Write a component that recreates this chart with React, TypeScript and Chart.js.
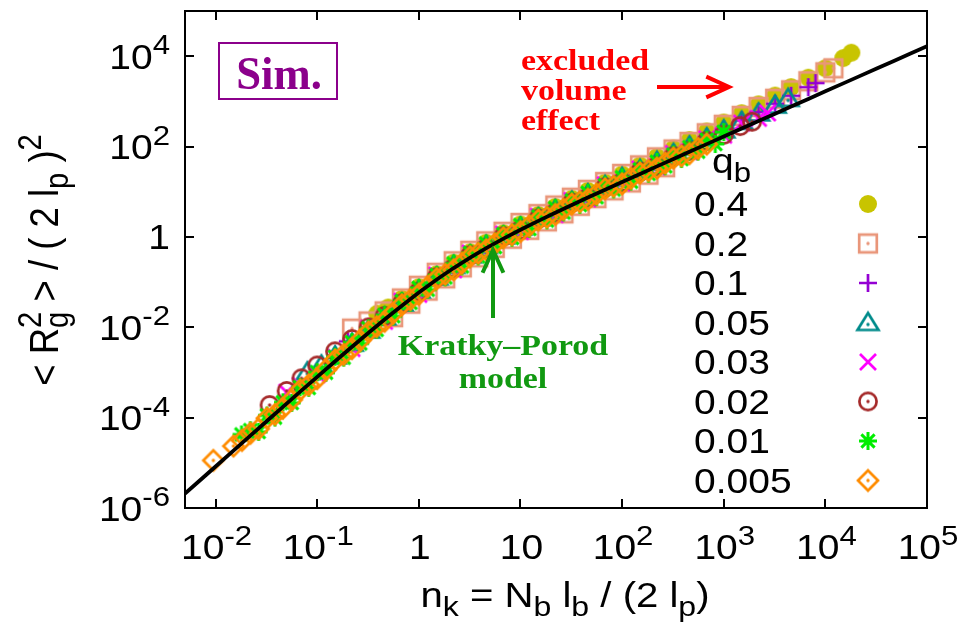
import React, { useEffect, useRef } from 'react';
import { Chart, registerables } from 'chart.js';

Chart.register(...registerables);

const W = 966;
const H = 640;

// Legend entries (bending parameter q_b) and their colours
const qbLabels = ['0.4', '0.2', '0.1', '0.05', '0.03', '0.02', '0.01', '0.005'];
const qbColors = ['#c8c400', '#e9967a', '#9400d3', '#008b8b', '#ff00ff', '#a52a2a', '#00ee00', '#ff8c00'];
const qbMarkers = ['disc', 'square', 'plus', 'triangle', 'cross', 'ring', 'star', 'diamond'];

// Simulation data: n_k and <Rg^2>/(2 l_p)^2 for each q_b
const n040 = [0.39, 0.5, 0.68, 1, 1.5, 2.2, 3.2, 4.6, 6.8, 10, 15, 22, 32, 46, 68, 100, 150, 220, 320, 460, 680, 1000, 1500, 2200, 3200, 4600, 6800, 10000, 15000, 18000];
const rg040 = [0.02, 0.02738, 0.04246, 0.07727, 0.15, 0.27, 0.46, 0.745, 1.211, 1.897, 3.055, 4.624, 7.031, 10.5, 16.03, 24.27, 38.37, 59.02, 90.16, 139.0, 215.3, 339.6, 547.0, 859.0, 1340, 2061, 3342, 5395, 9078, 11940];

const n020 = [0.22, 0.32, 0.46, 0.559, 0.68, 0.825, 1, 1.22, 1.5, 1.82, 2.2, 2.65, 3.2, 3.84, 4.6, 5.59, 6.8, 8.25, 10, 12.2, 15, 18.2, 22, 26.5, 32, 38.4, 46, 55.9, 68, 82.5, 100, 122, 150, 182, 220, 265, 320, 460, 680, 1000, 1500, 2200, 3200, 4600, 6800, 10000, 12000];
const rg020 = [0.00931, 0.01343, 0.02244, 0.01677, 0.04345, 0.03334, 0.08279, 0.06486, 0.1607, 0.1212, 0.2891, 0.2123, 0.4932, 0.3528, 0.798, 0.5723, 1.297, 0.9131, 2.032, 1.434, 3.199, 2.213, 4.955, 3.319, 7.362, 4.887, 10.99, 7.211, 16.41, 10.72, 24.83, 16.01, 38.37, 23.85, 57.68, 34.91, 86.1, 126.8, 196.3, 302.7, 476.4, 748.2, 1140, 1754, 2780, 4385, 5383];

const n010 = [0.2, 0.32, 0.46, 0.68, 1, 1.5, 2.2, 3.2, 4.6, 6.8, 10, 15, 22, 32, 46, 68, 100, 150, 220, 320, 460, 680, 1000, 1500, 2200, 3200, 4600, 6800, 8000];
const rg010 = [0.004887, 0.009954, 0.01782, 0.03614, 0.07047, 0.1368, 0.246, 0.4198, 0.6792, 1.104, 1.73, 2.723, 4.121, 6.266, 9.141, 13.96, 20.65, 31.92, 47.97, 71.61, 105.4, 159.6, 240.4, 378.4, 580.8, 885.1, 1330, 2061, 2541];

const n005 = [0.08, 0.11, 0.15, 0.22, 0.32, 0.46, 0.68, 1, 1.5, 2.2, 3.2, 4.6, 6.8, 10, 15, 22, 32, 46, 68, 100, 150, 220, 320, 460, 680, 1000, 1500, 2200, 3200, 4300];
const rg005 = [0.00103, 0.001462, 0.002328, 0.004457, 0.00867, 0.01702, 0.03451, 0.0673, 0.1306, 0.235, 0.4009, 0.6486, 1.054, 1.652, 2.661, 4.027, 6.124, 8.933, 13.65, 20.65, 31.19, 46.88, 69.98, 103.0, 156.0, 235.0, 361.4, 554.6, 826.0, 1161];

const n003 = [0.05, 0.068, 0.1, 0.15, 0.22, 0.32, 0.46, 0.68, 1, 1.5, 2.2, 3.2, 4.6, 6.8, 10, 15, 22, 32, 46, 68, 100, 150, 220, 320, 460, 680, 1000, 1500, 2200, 2700];
const rg003 = [3.631e-4, 5.176e-4, 8.995e-4, 2.223e-3, 3.381e-3, 9.506e-3, 1.352e-2, 3.784e-2, 5.346e-2, 0.1432, 0.1866, 0.4395, 0.5152, 1.156, 1.312, 2.851, 3.126, 6.412, 6.934, 14.29, 15.67, 31.92, 35.56, 69.98, 76.38, 148.9, 178.2, 329.6, 420.7, 553.4];

const n002 = [0.034, 0.05, 0.07, 0.1, 0.15, 0.22, 0.32, 0.46, 0.68, 1, 1.5, 2.2, 3.2, 4.6, 6.8, 10, 15, 22, 32, 46, 68, 100, 150, 220, 320, 460, 680, 1000, 1450, 1900];
const rg002 = [1.897e-4, 3.89e-4, 7.396e-4, 1.426e-3, 2.931e-3, 5.483e-3, 9.954e-3, 1.782e-2, 3.373e-2, 6.138e-2, 0.1276, 0.2046, 0.3917, 0.5649, 1.03, 1.439, 2.541, 3.428, 5.715, 7.43, 12.45, 16.41, 27.8, 37.24, 60.95, 79.98, 132.7, 182.4, 283.8, 354.8];

const n001 = [0.018, 0.022, 0.0265, 0.032, 0.0384, 0.046, 0.056, 0.068, 0.0825, 0.1, 0.122, 0.15, 0.182, 0.22, 0.265, 0.32, 0.384, 0.46, 0.559, 0.68, 0.825, 1, 1.22, 1.5, 1.82, 2.2, 2.65, 3.2, 3.84, 4.6, 5.59, 6.8, 8.25, 10, 12.2, 15, 18.2, 22, 26.5, 32, 38.4, 46, 55.9, 68, 82.5, 100, 122, 150, 182, 220, 265, 320, 384, 460, 559, 680, 825, 1000];
const rg001 = [4.246e-5, 5.272e-5, 4.831e-5, 1.112e-4, 1.005e-4, 2.178e-4, 2.118e-4, 4.721e-4, 4.56e-4, 1.009e-3, 9.897e-4, 2.223e-3, 2.128e-3, 4.667e-3, 4.4e-3, 9.506e-3, 8.801e-3, 1.866e-2, 1.756e-2, 3.784e-2, 3.491e-2, 7.379e-2, 6.792e-2, 0.1432, 0.1269, 0.2576, 0.2223, 0.4395, 0.3694, 0.7112, 0.5992, 1.156, 0.9561, 1.811, 1.502, 2.851, 2.317, 4.315, 3.475, 6.412, 5.117, 9.354, 7.551, 13.96, 11.22, 20.65, 16.77, 31.19, 24.97, 45.81, 36.56, 66.83, 52.97, 96.16, 77.27, 142.2, 114.0, 209.4];

const n0005 = [0.0095, 0.015, 0.0182, 0.022, 0.0265, 0.032, 0.0384, 0.046, 0.056, 0.068, 0.0825, 0.1, 0.122, 0.15, 0.182, 0.22, 0.265, 0.32, 0.384, 0.46, 0.559, 0.68, 0.825, 1, 1.22, 1.5, 1.82, 2.2, 2.65, 3.2, 3.84, 4.6, 5.59, 6.8, 8.25, 10, 12.2, 15, 18.2, 22, 26.5, 32, 38.4, 46, 55.9, 68, 82.5, 100, 122, 150, 182, 220, 265, 320, 384, 460, 559, 680];
const rg0005 = [1.13e-5, 2.344e-5, 3.133e-5, 4.487e-5, 5.675e-5, 9.68e-5, 1.18e-4, 1.614e-4, 2.489e-4, 4.11e-4, 5.358e-4, 7.31e-4, 1.163e-3, 1.892e-3, 2.5e-3, 3.38e-3, 5.17e-3, 7.91e-3, 1.034e-2, 1.352e-2, 2.064e-2, 3.148e-2, 4.102e-2, 5.35e-2, 7.98e-2, 0.1191, 0.1491, 0.1866, 0.2612, 0.3656, 0.434, 0.5152, 0.7039, 0.9616, 1.123, 1.312, 1.764, 2.371, 2.723, 3.126, 4.083, 5.333, 6.012, 6.776, 8.872, 11.61, 13.18, 14.96, 19.7, 25.94, 29.34, 33.19, 42.95, 55.59, 62.23, 69.66, 90.78, 113.0];

const seriesN = [n040, n020, n010, n005, n003, n002, n001, n0005];
const seriesRg = [rg040, rg020, rg010, rg005, rg003, rg002, rg001, rg0005];

// Kratky-Porod worm-like chain curve
const modelN = [0.005, 0.0075, 0.01, 0.015, 0.022, 0.032, 0.046, 0.068, 0.1, 0.15, 0.22, 0.32, 0.46, 0.68, 1, 1.5, 2.2, 3.2, 4.6, 6.8, 10, 15, 22, 32, 46, 68, 100, 150, 220, 320, 460, 680, 1000, 1500, 2200, 3200, 4600, 6800, 10000, 15000, 22000, 32000, 46000, 68000, 100000];
const modelRg = [2.079e-6, 4.673e-6, 8.3e-6, 1.864e-5, 3.998e-5, 8.425e-5, 1.731e-4, 3.751e-4, 8.011e-4, 1.768e-3, 3.703e-3, 7.547e-3, 1.4828e-2, 3.0034e-2, 5.8584e-2, 0.11388, 0.20479, 0.34927, 0.56511, 0.9174, 1.4404, 2.2661, 3.4278, 5.091, 7.422, 11.087, 16.419, 24.752, 36.418, 53.084, 76.417, 113.08, 166.42, 249.75, 366.42, 533.08, 766.42, 1133.1, 1666.4, 2499.8, 3666.4, 5333.1, 7666.4, 11333, 16666];

// Axis ticks: value, mantissa text, exponent text
const xTickVals = [0.01, 0.1, 1, 10, 100, 1000, 10000, 100000];
const xTickBase = ['10', '10', '1', '10', '10', '10', '10', '10'];
const xTickExp = ['-2', '-1', '', '', '2', '3', '4', '5'];
const yTickVals = [1e-6, 1e-4, 1e-2, 1, 100, 10000];
const yTickBase = ['10', '10', '10', '1', '10', '10'];
const yTickExp = ['-6', '-4', '-2', '', '2', '4'];

const SANS = '"Liberation Sans", Arial, Helvetica, sans-serif';
const SERIF = '"Liberation Serif", "Times New Roman", serif';
const WIDE = 1.13; // horizontal widening of the lettering

type Seg = { t?: string; sup?: string; sub?: string };

function setFont(ctx: CanvasRenderingContext2D, size: number, family: string, weight = 'normal') {
  ctx.font = `${weight} ${size}px ${family}`;
}

function drawRich(
  ctx: CanvasRenderingContext2D,
  segs: Seg[],
  x: number,
  y: number,
  size: number,
  align: 'left' | 'center' | 'right',
  color = '#000',
  family = SANS,
  weight = 'normal',
  sx = WIDE,
) {
  const small = size * 0.8;
  const widths = segs.map((s) => {
    if (s.t !== undefined) {
      setFont(ctx, size, family, weight);
      return ctx.measureText(s.t).width;
    }
    setFont(ctx, small, family, weight);
    return Math.max(s.sup ? ctx.measureText(s.sup).width : 0, s.sub ? ctx.measureText(s.sub).width : 0);
  });
  const total = widths.reduce((a, b) => a + b, 0) * sx;
  const x0 = align === 'center' ? x - total / 2 : align === 'right' ? x - total : x;
  ctx.save();
  ctx.translate(x0, y);
  ctx.scale(sx, 1);
  ctx.fillStyle = color;
  ctx.textAlign = 'left';
  ctx.textBaseline = 'alphabetic';
  let cx = 0;
  segs.forEach((s, i) => {
    if (s.t !== undefined) {
      setFont(ctx, size, family, weight);
      ctx.fillText(s.t, cx, 0);
    } else {
      setFont(ctx, small, family, weight);
      if (s.sup) ctx.fillText(s.sup, cx, -size * 0.42);
      if (s.sub) ctx.fillText(s.sub, cx, size * 0.25);
    }
    cx += widths[i];
  });
  ctx.restore();
}

function makeMarker(kind: string, color: string): HTMLCanvasElement {
  const s = 30;
  const c = document.createElement('canvas');
  c.width = s;
  c.height = s;
  const g = c.getContext('2d') as CanvasRenderingContext2D;
  const m = s / 2;
  g.strokeStyle = color;
  g.fillStyle = color;
  g.lineWidth = 2.7;
  const dot = (dy = 0) => {
    g.beginPath();
    g.arc(m, m + dy, 1.7, 0, Math.PI * 2);
    g.fill();
  };
  g.beginPath();
  if (kind === 'disc') {
    g.arc(m, m, 9, 0, Math.PI * 2);
    g.fill();
  } else if (kind === 'square') {
    g.rect(m - 8.8, m - 8.8, 17.6, 17.6);
    g.stroke();
    dot();
  } else if (kind === 'plus') {
    g.moveTo(m - 9, m);
    g.lineTo(m + 9, m);
    g.moveTo(m, m - 9);
    g.lineTo(m, m + 9);
    g.stroke();
  } else if (kind === 'triangle') {
    g.moveTo(m, m - 9.5);
    g.lineTo(m + 10.5, m + 7.5);
    g.lineTo(m - 10.5, m + 7.5);
    g.closePath();
    g.stroke();
    dot(2);
  } else if (kind === 'cross') {
    g.moveTo(m - 8, m - 8);
    g.lineTo(m + 8, m + 8);
    g.moveTo(m - 8, m + 8);
    g.lineTo(m + 8, m - 8);
    g.stroke();
  } else if (kind === 'ring') {
    g.arc(m, m, 8.6, 0, Math.PI * 2);
    g.stroke();
    dot();
  } else if (kind === 'star') {
    g.lineWidth = 3;
    g.moveTo(m - 9, m);
    g.lineTo(m + 9, m);
    g.moveTo(m, m - 9);
    g.lineTo(m, m + 9);
    g.moveTo(m - 6.6, m - 6.6);
    g.lineTo(m + 6.6, m + 6.6);
    g.moveTo(m - 6.6, m + 6.6);
    g.lineTo(m + 6.6, m - 6.6);
    g.stroke();
  } else if (kind === 'diamond') {
    g.moveTo(m, m - 10);
    g.lineTo(m + 10, m);
    g.lineTo(m, m + 10);
    g.lineTo(m - 10, m);
    g.closePath();
    g.stroke();
    dot();
  }
  return c;
}

function arrow(ctx: CanvasRenderingContext2D, x0: number, y0: number, x1: number, y1: number, color: string) {
  const ang = Math.atan2(y1 - y0, x1 - x0);
  const len = 25;
  const spread = 0.43;
  ctx.save();
  ctx.strokeStyle = color;
  ctx.lineWidth = 4;
  ctx.lineCap = 'butt';
  ctx.beginPath();
  ctx.moveTo(x0, y0);
  ctx.lineTo(x1, y1);
  ctx.moveTo(x1 - len * Math.cos(ang - spread), y1 - len * Math.sin(ang - spread));
  ctx.lineTo(x1, y1);
  ctx.lineTo(x1 - len * Math.cos(ang + spread), y1 - len * Math.sin(ang + spread));
  ctx.stroke();
  ctx.restore();
}

export default function App() {
  const ref = useRef<HTMLCanvasElement>(null);

  useEffect(() => {
    const canvas = ref.current;
    if (!canvas) return;
    const markers = qbMarkers.map((k, i) => makeMarker(k, qbColors[i]));

    const decor = {
      id: 'decor',
      afterDraw(chart: any) {
        const ctx: CanvasRenderingContext2D = chart.ctx;
        const { left, right, top, bottom } = chart.chartArea;
        const xs = chart.scales.x;
        const ys = chart.scales.y;
        ctx.save();

        // frame and inward ticks on all four sides
        ctx.strokeStyle = '#000';
        ctx.lineWidth = 2;
        ctx.strokeRect(left, top, right - left, bottom - top);
        ctx.beginPath();
        const tl = 9;
        xTickVals.forEach((v) => {
          const px = Math.round(xs.getPixelForValue(v));
          ctx.moveTo(px, bottom);
          ctx.lineTo(px, bottom - tl);
          ctx.moveTo(px, top);
          ctx.lineTo(px, top + tl);
        });
        yTickVals.forEach((v) => {
          const py = Math.round(ys.getPixelForValue(v));
          ctx.moveTo(left, py);
          ctx.lineTo(left + tl, py);
          ctx.moveTo(right, py);
          ctx.lineTo(right - tl, py);
        });
        ctx.stroke();

        // tick labels
        const fs = 34.5;
        xTickVals.forEach((v, i) => {
          const px = xs.getPixelForValue(v);
          const segs: Seg[] = [{ t: xTickBase[i] }];
          if (xTickExp[i]) segs.push({ sup: xTickExp[i] });
          drawRich(ctx, segs, px + 1, 559, fs, 'center');
        });
        yTickVals.forEach((v, i) => {
          const py = ys.getPixelForValue(v);
          const segs: Seg[] = [{ t: yTickBase[i] }];
          if (yTickExp[i]) segs.push({ sup: yTickExp[i] });
          drawRich(ctx, segs, 170, py + 12.5, fs, 'right');
        });

        // axis titles
        drawRich(
          ctx,
          [{ t: 'n' }, { sub: 'k' }, { t: ' = N' }, { sub: 'b' }, { t: ' l' }, { sub: 'b' }, { t: ' / (2 l' }, { sub: 'p' }, { t: ')' }],
          565,
          607,
          35.5,
          'center',
        );
        ctx.save();
        ctx.translate(58, 260);
        ctx.rotate(-Math.PI / 2);
        ctx.scale(1, WIDE);
        drawRich(
          ctx,
          [{ t: '< R' }, { sup: '2', sub: 'g' }, { t: ' > / ( 2 l' }, { sub: 'p' }, { t: ' )' }, { sup: '2' }],
          0,
          0,
          36.5,
          'center',
          '#000',
          SANS,
          'normal',
          1,
        );
        ctx.restore();

        // legend
        drawRich(ctx, [{ t: 'q' }, { sub: 'b' }], 712, 173, fs, 'left');
        qbLabels.forEach((lab, i) => {
          const cy = 204 + i * 39.5;
          drawRich(ctx, [{ t: lab }], 694, cy + 12, fs, 'left');
          const mk = markers[i];
          ctx.drawImage(mk, 868 - mk.width / 2, cy - mk.height / 2);
        });

        // "Sim." label box
        ctx.strokeStyle = '#8b008b';
        ctx.lineWidth = 2;
        ctx.strokeRect(219, 43, 118, 56);
        drawRich(ctx, [{ t: 'Sim.' }], 279, 89, 47, 'center', '#8b008b', SERIF, 'bold', 0.95);

        // excluded volume annotation
        ['excluded', 'volume', 'effect'].forEach((w, i) => {
          drawRich(ctx, [{ t: w }], 521, 70 + i * 30, 30, 'left', '#ff0000', SERIF, 'bold');
        });
        arrow(ctx, 657, 87, 729, 87, '#ff0000');

        // Kratky-Porod annotation
        drawRich(ctx, [{ t: 'Kratky\u2013Porod' }], 503, 355, 30, 'center', '#119911', SERIF, 'bold');
        drawRich(ctx, [{ t: 'model' }], 503, 388, 30, 'center', '#119911', SERIF, 'bold');
        arrow(ctx, 493, 318, 493, 250, '#119911');

        ctx.restore();
      },
    };

    const datasets: any[] = [
      {
        label: 'Kratky-Porod',
        data: modelN.map((x, i) => ({ x, y: modelRg[i] })),
        showLine: true,
        borderColor: '#000',
        borderWidth: 3.8,
        pointRadius: 0,
        tension: 0,
        order: 0,
      },
    ];
    qbLabels.forEach((lab, i) => {
      datasets.push({
        label: lab,
        data: seriesN[i].map((x, j) => ({ x, y: seriesRg[i][j] })),
        showLine: false,
        pointStyle: markers[i],
        pointRadius: 10,
        order: 8 - i,
      });
    });

    const chart = new Chart(canvas, {
      type: 'scatter',
      data: { datasets },
      options: {
        animation: false,
        responsive: false,
        devicePixelRatio: 1,
        events: [],
        layout: { padding: { left: 185, right: 39, top: 10, bottom: 132 } },
        scales: {
          x: { type: 'logarithmic', min: 0.005, max: 100000, display: false },
          y: { type: 'logarithmic', min: 1e-6, max: 100000, display: false },
        },
        plugins: { legend: { display: false }, tooltip: { enabled: false } },
      },
      plugins: [decor],
    } as any);
    return () => chart.destroy();
  }, []);

  return (
    <div style={{ position: 'fixed', left: 0, top: 0, width: W, height: H, background: '#fff' }}>
      <canvas ref={ref} width={W} height={H} style={{ width: W, height: H, display: 'block' }} />
    </div>
  );
}
